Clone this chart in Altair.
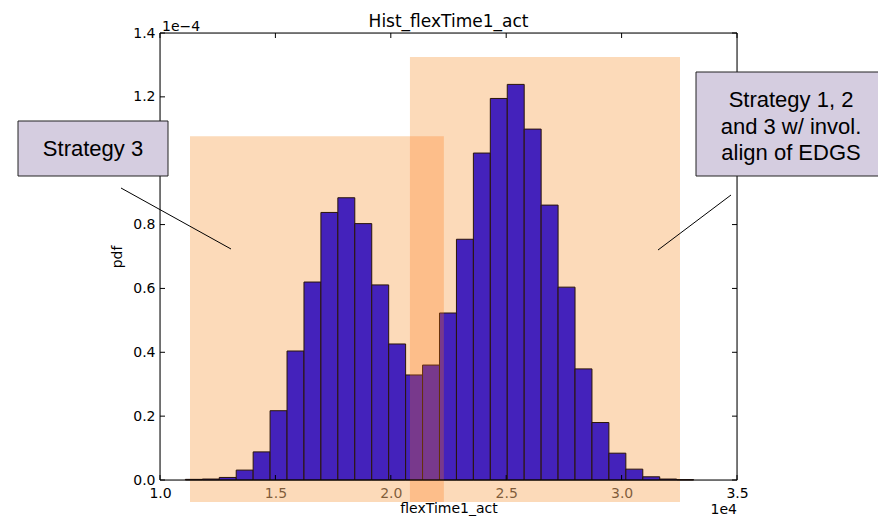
import altair as alt
import pandas as pd
import numpy as np

# ---- data (x in units of 1e4, density in units of 1e-4) ----
bin_edges = np.linspace(1.110, 3.312, 31)
density = [0.002, 0.003, 0.008, 0.031, 0.088, 0.217, 0.404, 0.620, 0.838, 0.884,
           0.803, 0.611, 0.426, 0.329, 0.360, 0.523, 0.754, 1.024, 1.195, 1.239,
           1.099, 0.861, 0.604, 0.348, 0.180, 0.084, 0.034, 0.010, 0.003, 0.001]
x_ticks = [1.0, 1.5, 2.0, 2.5, 3.0, 3.5]
y_ticks = [0.0, 0.2, 0.4, 0.6, 0.8, 1.0, 1.2, 1.4]

# highlighted regions (data coords)
region_x0 = [1.13, 2.083]
region_x1 = [2.083, 3.253]
region_y0 = [-0.069, -0.069]
region_y1 = [1.077, 1.325]
overlap = {"x0": [2.083], "x1": [2.23], "y0": [-0.069], "y1": [1.077]}

W, H = 577, 447

hist = pd.DataFrame({"x0": bin_edges[:-1], "x1": bin_edges[1:], "d": density})
regions = pd.DataFrame({"x0": region_x0, "x1": region_x1, "y0": region_y0, "y1": region_y1})
xt = pd.DataFrame({"v": x_ticks})
yt = pd.DataFrame({"v": y_ticks})
one = pd.DataFrame({"a": [0]})

xs = alt.Scale(domain=[1.0, 3.5], nice=False, zero=False)
ys = alt.Scale(domain=[0, 1.4], nice=False, zero=False)

FONT = "DejaVu Sans"

xaxis = alt.Axis(values=x_ticks, format=".1f", ticks=False, domain=False, grid=False,
                 labelFlush=False, labelOverlap=False,
                 labelFont=FONT, labelFontSize=14, labelColor="black", labelPadding=6,
                 title="flexTime1_act", titleFont=FONT, titleFontSize=14,
                 titleFontWeight="normal", titleColor="black", titlePadding=1)
yaxis = alt.Axis(values=y_ticks, format=".1f", ticks=False, domain=False, grid=False,
                 labelFlush=False, labelOverlap=False,
                 labelExpr="datum.value == 1 ? '' : datum.label",
                 labelFont=FONT, labelFontSize=14, labelColor="black", labelPadding=5,
                 title="pdf", titleFont=FONT, titleFontSize=14,
                 titleFontWeight="normal", titleColor="black", titlePadding=8)

boxes = alt.Chart(regions).mark_rect(fill="#FAB574", opacity=0.5).encode(
    x=alt.X("x0:Q", scale=xs, axis=xaxis), x2="x1:Q",
    y=alt.Y("y0:Q", scale=ys, axis=yaxis), y2="y1:Q")

bars = alt.Chart(hist).mark_rect(fill="#4422BB", stroke="#2a1508", strokeWidth=1).encode(
    x=alt.X("x0:Q", scale=xs), x2="x1:Q",
    y=alt.Y("d:Q", scale=ys), y2=alt.datum(0))

strip = alt.Chart(pd.DataFrame(overlap)).mark_rect(fill="#FF7813", opacity=0.28).encode(
    x=alt.X("x0:Q", scale=xs), x2="x1:Q",
    y=alt.Y("y0:Q", scale=ys), y2="y1:Q")

TL = 5
tick_b = alt.Chart(xt).mark_rule(color="black").encode(
    x=alt.X("v:Q", scale=xs), y=alt.value(H), y2=alt.value(H - TL))
tick_t = alt.Chart(xt).mark_rule(color="black").encode(
    x=alt.X("v:Q", scale=xs), y=alt.value(0), y2=alt.value(TL))
tick_l = alt.Chart(yt).mark_rule(color="black").encode(
    y=alt.Y("v:Q", scale=ys), x=alt.value(0), x2=alt.value(TL))
tick_r = alt.Chart(yt).mark_rule(color="black").encode(
    y=alt.Y("v:Q", scale=ys), x=alt.value(W), x2=alt.value(W - TL))

frame = alt.Chart(one).mark_rect(filled=False, stroke="black", strokeWidth=1).encode(
    x=alt.value(0), x2=alt.value(W), y=alt.value(0), y2=alt.value(H))

title = alt.Chart(one).mark_text(font=FONT, fontSize=17, color="black", align="center",
                                 baseline="alphabetic").encode(
    x=alt.value(W / 2), y=alt.value(-6.5), text=alt.value("Hist_flexTime1_act"))

# callouts
cb_left = alt.Chart(one).mark_rect(fill="#D5CDE0", stroke="#222222", strokeWidth=1).encode(
    x=alt.value(-142), x2=alt.value(8), y=alt.value(88), y2=alt.value(143))
cb_right = alt.Chart(one).mark_rect(fill="#D5CDE0", stroke="#222222", strokeWidth=1).encode(
    x=alt.value(536), x2=alt.value(760), y=alt.value(39), y2=alt.value(143))

CF = "Liberation Sans"
t_left = alt.Chart(one).mark_text(font=CF, fontSize=22, color="black", align="center",
                                  baseline="middle").encode(
    x=alt.value(-67), y=alt.value(116), text=alt.value("Strategy 3"))
t_right = alt.Chart(one).mark_text(font=CF, fontSize=22, color="black", align="center",
                                   baseline="middle", lineHeight=26.5).encode(
    x=alt.value(631), y=alt.value(67),
    text=alt.value(["Strategy 1, 2", "and 3 w/ invol.", "align of EDGS"]))

l_left = alt.Chart(one).mark_rule(color="black", strokeWidth=1).encode(
    x=alt.value(-39), y=alt.value(155), x2=alt.value(71), y2=alt.value(216))
l_right = alt.Chart(one).mark_rule(color="black", strokeWidth=1).encode(
    x=alt.value(571), y=alt.value(162), x2=alt.value(498), y2=alt.value(217))

exp_y = alt.Chart(one).mark_text(font=FONT, fontSize=14, color="black", align="left",
                                 baseline="alphabetic").encode(
    x=alt.value(2), y=alt.value(-2), text=alt.value("1e\u22124"))
exp_x = alt.Chart(one).mark_text(font=FONT, fontSize=14, color="black", align="right",
                                 baseline="alphabetic").encode(
    x=alt.value(W), y=alt.value(481), text=alt.value("1e4"))

chart = alt.layer(
    boxes, bars, strip, tick_b, tick_t, tick_l, tick_r, frame, title,
    l_left, l_right, cb_left, cb_right, t_left, t_right, exp_y, exp_x
).properties(
    width=W, height=H,
    autosize=alt.AutoSizeParams(type="none"),
    padding={"left": 152, "top": 25, "right": 141, "bottom": 36},
).configure_view(stroke=None).configure(background="white")

chart.save("out.html", embed_options={"renderer": "svg", "actions": False})
